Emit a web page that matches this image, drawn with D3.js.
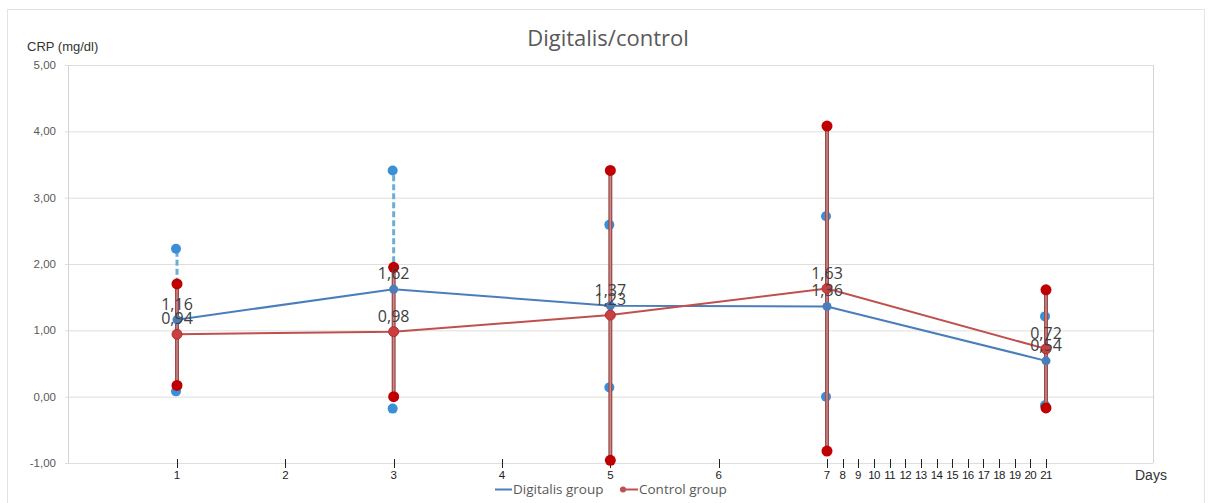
<!DOCTYPE html>
<html><head><meta charset="utf-8">
<script src="https://cdn.jsdelivr.net/npm/d3@7"></script>
<style>body{margin:0;background:#fff;} svg{display:block;font-family:"Open Sans","Noto Sans",sans-serif;} .ar{font-family:"Liberation Sans",Arial,sans-serif;}</style>
</head><body>
<script>
const days = [1, 3, 5, 7, 21];
const digitalisMean = [1.16, 1.62, 1.37, 1.36, 0.54];
const digitalisUpper = [2.23, 3.41, 2.59, 2.72, 1.21];
const digitalisLower = [0.08, -0.18, 0.14, 0.00, -0.13];
const controlMean = [0.94, 0.98, 1.23, 1.63, 0.72];
const controlUpper = [1.70, 1.95, 3.41, 4.08, 1.61];
const controlLower = [0.17, 0.00, -0.96, -0.82, -0.17];
const xTicks = d3.range(1, 22);
const yTicks = [-1, 0, 1, 2, 3, 4, 5];
const labelFmt = v => v.toFixed(2).replace('.', ',');

(function () {
const W = 1212, H = 503;
const svg = d3.select('body').append('svg').attr('width', W).attr('height', H);

// outer frame
svg.append('rect').attr('x', 7.5).attr('y', 9.5).attr('width', 1197).attr('height', 500)
  .attr('fill', 'none').attr('stroke', '#e3e3e3');

const pL = 68, pR = 1153, pT = 65, pB = 463;
const x = d3.scaleLinear().domain([1, 7, 21]).range([177, 827, 1046]);
const y = d3.scaleLinear().domain([-1, 5]).range([pB, pT]);

// gridlines
svg.append('g').selectAll('line').data(yTicks).join('line')
  .attr('x1', pL - 3).attr('x2', pR).attr('y1', d => y(d) + 0.5).attr('y2', d => y(d) + 0.5)
  .attr('stroke', '#dedede').attr('stroke-width', 1);
svg.append('line').attr('x1', pL + 0.5).attr('x2', pL + 0.5).attr('y1', pT).attr('y2', pB)
  .attr('stroke', '#d4d4d4');
svg.append('line').attr('x1', pR + 0.5).attr('x2', pR + 0.5).attr('y1', pT).attr('y2', pB)
  .attr('stroke', '#d4d4d4');

// y labels
svg.append('g').attr('class', 'ar').selectAll('text').data(yTicks).join('text')
  .attr('x', 56).attr('y', d => y(d) + 4).attr('text-anchor', 'end')
  .attr('font-size', 11.5).attr('fill', '#595959').text(labelFmt);
svg.append('text').attr('class', 'ar').attr('x', 27).attr('y', 51).attr('font-size', 13).attr('fill', '#333')
  .text('CRP (mg/dl)');

// title
svg.append('text').attr('x', 608).attr('y', 46).attr('text-anchor', 'middle')
  .attr('font-size', 22).attr('fill', '#595959').text('Digitalis/control');

// x ticks
const xa = svg.append('g').attr('class', 'ar');
xa.selectAll('line').data(xTicks).join('line')
  .attr('x1', d => Math.round(x(d)) + 0.5).attr('x2', d => Math.round(x(d)) + 0.5)
  .attr('y1', 459).attr('y2', 468).attr('stroke', '#222').attr('stroke-width', 1);
xa.selectAll('text').data(xTicks).join('text')
  .attr('x', d => x(d)).attr('y', 479).attr('text-anchor', 'middle')
  .attr('font-size', 11.5).attr('fill', '#222').attr('letter-spacing', d => d >= 10 ? -0.6 : 0).text(d => d);
svg.append('text').attr('class', 'ar').attr('x', 1135).attr('y', 480).attr('font-size', 14).attr('fill', '#333').text('Days');

const D = days.map((d, i) => ({d, dm: digitalisMean[i], du: digitalisUpper[i], dl: digitalisLower[i],
  cm: controlMean[i], cu: controlUpper[i], cl: controlLower[i]}));

const blue = '#4a7ebb', blueDot = '#3a8fd6', red = '#c0504d', redDot = '#c00000';

// blue dashed error bars (upper)
svg.append('g').selectAll('line').data(D).join('line')
  .attr('x1', d => x(d.d)).attr('x2', d => x(d.d)).attr('y1', d => y(d.dm)).attr('y2', d => y(d.du))
  .attr('stroke', '#6aaed6').attr('stroke-width', 3).attr('stroke-dasharray', '6,3');

// blue line
svg.append('path').datum(D).attr('fill', 'none').attr('stroke', blue).attr('stroke-width', 2)
  .attr('d', d3.line().x(d => x(d.d)).y(d => y(d.dm)));

// blue min/max dots
const bdots = [];
D.forEach(d => { bdots.push({d: d.d, v: d.du}); bdots.push({d: d.d, v: d.dl}); });
svg.append('g').selectAll('circle').data(bdots).join('circle')
  .attr('cx', d => x(d.d) - 1).attr('cy', d => y(d.v)).attr('r', 5).attr('fill', blueDot);

// red error bars
const eb = svg.append('g');
eb.selectAll('line.o').data(D).join('line').attr('class', 'o')
  .attr('x1', d => x(d.d)).attr('x2', d => x(d.d)).attr('y1', d => y(d.cl)).attr('y2', d => y(d.cu))
  .attr('stroke', '#9c4a4a').attr('stroke-width', 4);
eb.selectAll('line.i').data(D).join('line').attr('class', 'i')
  .attr('x1', d => x(d.d)).attr('x2', d => x(d.d)).attr('y1', d => y(d.cl)).attr('y2', d => y(d.cu))
  .attr('stroke', '#c98a8a').attr('stroke-width', 1.5);

// red line
svg.append('path').datum(D).attr('fill', 'none').attr('stroke', red).attr('stroke-width', 2)
  .attr('d', d3.line().x(d => x(d.d)).y(d => y(d.cm)));

// red min/max dots
const rdots = [];
D.forEach(d => { rdots.push({d: d.d, v: d.cu}); rdots.push({d: d.d, v: d.cl}); });
svg.append('g').selectAll('circle').data(rdots).join('circle')
  .attr('cx', d => x(d.d)).attr('cy', d => y(d.v)).attr('r', 5.5).attr('fill', redDot);

// mean markers
svg.append('g').selectAll('circle').data(D).join('circle')
  .attr('cx', d => x(d.d)).attr('cy', d => y(d.dm)).attr('r', 4.5).attr('fill', blue);
svg.append('g').selectAll('circle').data(D).join('circle')
  .attr('cx', d => x(d.d)).attr('cy', d => y(d.cm)).attr('r', 5).attr('fill', '#c94040').attr('stroke', '#b03030');

// data labels
const lab = svg.append('g').attr('font-size', 16).attr('fill', '#404040').attr('text-anchor', 'middle');
lab.selectAll('text.b').data(D).join('text').attr('class', 'b')
  .attr('x', d => x(d.d)).attr('y', d => y(d.dm) - 10).text(d => labelFmt(d.dm));
lab.selectAll('text.r').data(D).join('text').attr('class', 'r')
  .attr('x', d => x(d.d)).attr('y', d => y(d.cm) - 10).text(d => labelFmt(d.cm));

// legend
const lg = svg.append('g').attr('font-size', 13.5).attr('fill', '#595959');
lg.append('line').attr('x1', 495).attr('x2', 512).attr('y1', 489.5).attr('y2', 489.5).attr('stroke', blue).attr('stroke-width', 2);
lg.append('text').attr('x', 513).attr('y', 494).text('Digitalis group');
lg.append('line').attr('x1', 620).attr('x2', 638).attr('y1', 489.5).attr('y2', 489.5).attr('stroke', red).attr('stroke-width', 2);
lg.append('circle').attr('cx', 623).attr('cy', 489.5).attr('r', 3).attr('fill', red);
lg.append('text').attr('x', 639).attr('y', 494).text('Control group');
})();
</script>
</body></html>
